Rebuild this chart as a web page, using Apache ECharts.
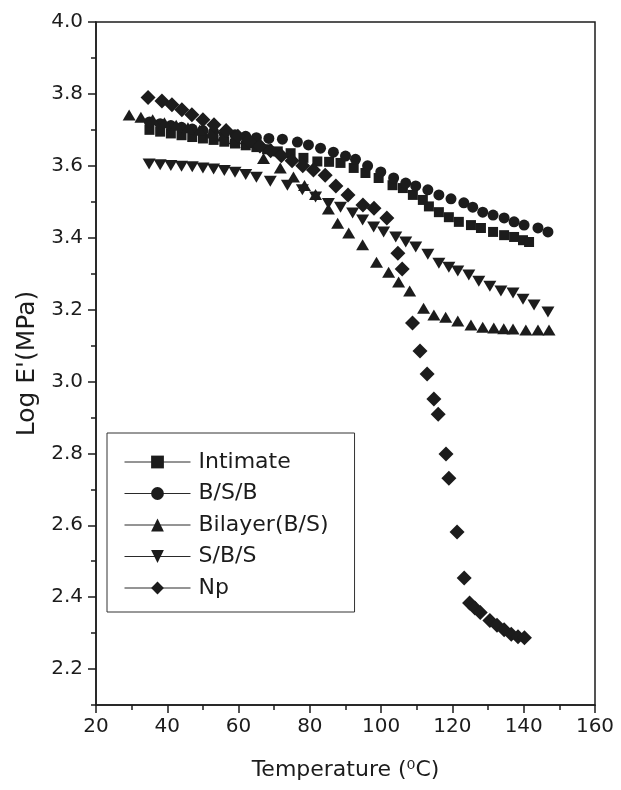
<!DOCTYPE html>
<html>
<head>
<meta charset="utf-8">
<script src="https://cdn.jsdelivr.net/npm/echarts@6/dist/echarts.min.js"></script>
<style>
	html, body { margin: 0; padding: 0; background: #fff; }
	#chart { width: 621px; height: 790px; }
</style>
</head>
<body>
<div id="chart"></div>
<script>
// values: temperature (C) and log E' (MPa)
var intimateT = [35,38,41,44,47,50,53,56,59,62,65,68,71,74.6,78.2,82.1,85.4,88.6,92.3,95.6,99.3,103.2,106.1,108.9,111.7,113.4,116.2,119,121.8,125.2,128,131.4,134.5,137.3,139.8,141.5];
var intimateV = [3.70,3.695,3.69,3.685,3.68,3.676,3.672,3.667,3.662,3.657,3.652,3.646,3.64,3.635,3.622,3.612,3.611,3.608,3.594,3.58,3.566,3.546,3.538,3.519,3.505,3.487,3.471,3.457,3.444,3.435,3.427,3.416,3.407,3.402,3.393,3.388];

var bsbT = [35,38,41,44,47,50,53,56,59,62,65,68.5,72.3,76.5,79.6,83,86.6,90,92.8,96.2,99.9,103.5,106.9,109.7,113.1,116.2,119.6,123.2,125.7,128.5,131.4,134.5,137.3,140.1,144,146.8];
var bsbV = [3.722,3.717,3.712,3.707,3.702,3.698,3.694,3.69,3.686,3.682,3.678,3.676,3.674,3.666,3.658,3.649,3.638,3.627,3.618,3.6,3.583,3.566,3.552,3.544,3.533,3.519,3.508,3.497,3.485,3.471,3.463,3.455,3.444,3.435,3.427,3.416];

var bilayerT = [29.3,32.6,35.9,39.2,42.5,45.8,49.1,52.4,55.7,59,62.3,67,71.7,75.4,78.5,81.6,85.2,87.8,90.9,94.8,98.7,102.1,104.9,108,111.9,114.8,118.1,121.5,125.2,128.5,131.6,134.4,137,140.6,144,147.1];
var bilayerV = [3.741,3.735,3.728,3.72,3.713,3.706,3.699,3.691,3.683,3.675,3.665,3.62,3.594,3.569,3.545,3.52,3.48,3.44,3.413,3.38,3.332,3.304,3.277,3.252,3.204,3.185,3.179,3.168,3.157,3.151,3.149,3.147,3.146,3.143,3.143,3.143];

var sbsT = [34.9,38,41,44,47,50,53,56,59,62,65,68.9,73.7,77.9,81.6,85.2,88.6,92,94.8,97.9,100.7,104.1,106.9,109.7,113.1,116.2,119,121.5,124.6,127.4,130.5,133.6,137,139.8,142.9,146.8];
var sbsV = [3.605,3.603,3.601,3.599,3.597,3.594,3.591,3.587,3.582,3.576,3.568,3.557,3.546,3.533,3.513,3.495,3.485,3.469,3.449,3.43,3.416,3.402,3.388,3.374,3.354,3.329,3.318,3.307,3.296,3.279,3.265,3.252,3.246,3.229,3.213,3.193];

var npT = [34.6,38.5,41.3,44.1,46.9,50,53.1,56.5,59.8,63,66,69,72,75,78,81,84.3,87.3,90.7,94.9,98,101.6,104.7,105.9,108.8,110.9,112.9,114.8,116,118.2,119,121.3,123.3,124.8,126.3,127.8,130.5,132.5,134.5,136.5,138.4,140.2];
var npV = [3.79,3.78,3.77,3.756,3.742,3.728,3.714,3.698,3.682,3.668,3.655,3.642,3.628,3.614,3.6,3.588,3.574,3.544,3.519,3.491,3.482,3.455,3.357,3.313,3.163,3.085,3.021,2.951,2.909,2.798,2.731,2.581,2.453,2.384,2.37,2.357,2.335,2.322,2.309,2.297,2.29,2.287];

var yMajor = [2.2,2.4,2.6,2.8,3.0,3.2,3.4,3.6,3.8,4.0];
var yMinor = [2.1,2.3,2.5,2.7,2.9,3.1,3.3,3.5,3.7,3.9];

var ink = '#1c1c1c';
var font = 'DejaVu Sans';
var downTri = 'path://M0,0 L12,0 L6,10 Z';

function pairs(xs, ys){
	var out = [];
	for (var i = 0; i < xs.length; i++) out.push([xs[i], ys[i]]);
	return out;
}

function makeSeries(name, symbol, size, xs, ys){
	return {
		name: name,
		type: 'line',
		symbol: symbol,
		symbolSize: size,
		showAllSymbol: true,
		animation: false,
		itemStyle: { color: ink },
		lineStyle: { width: 0, opacity: 0 },
		emphasis: { disabled: true },
		data: pairs(xs, ys)
	};
}

var chart = echarts.init(document.getElementById('chart'));
var option = {
	animation: false,
	grid: {
		left: 96,
		right: 26,
		top: 22,
		bottom: 85,
		show: true,
		borderColor: ink,
		borderWidth: 1.5
	},
	legend: {
		orient: 'vertical',
		left: 107,
		top: 433,
		padding: [18, 26, 13, 17],
		itemGap: 9.5,
		itemWidth: 66,
		itemHeight: 16,
		borderColor: '#333',
		borderWidth: 1,
		lineStyle: { width: 1, opacity: 1, color: '#2a2a2a' },
		textStyle: { fontFamily: font, fontSize: 22, lineHeight: 22, color: ink, padding: [0, 0, 0, 3] },
		data: ['Intimate', 'B/S/B', 'Bilayer(B/S)', 'S/B/S', 'Np']
	},
	xAxis: {
		type: 'value',
		min: 20,
		max: 160,
		interval: 20,
		name: 'Temperature (\u2070C)',
		nameLocation: 'middle',
		nameGap: 54,
		nameTextStyle: { fontFamily: font, fontSize: 22, color: ink },
		axisLine: { lineStyle: { color: ink, width: 1.5 } },
		axisTick: { length: 8, lineStyle: { color: ink, width: 1.5 } },
		minorTick: { show: true, splitNumber: 2, length: 5, lineStyle: { color: ink, width: 1.5 } },
		axisLabel: { margin: 12, fontFamily: font, fontSize: 20, color: ink },
		splitLine: { show: false }
	},
	yAxis: [
		{
			type: 'value',
			min: 2.1,
			max: 4.0,
			name: "Log E'(MPa)",
			nameLocation: 'middle',
			nameGap: 56,
			nameTextStyle: { fontFamily: font, fontSize: 25, color: ink },
			axisLine: { lineStyle: { color: ink, width: 1.5 } },
			axisTick: { customValues: yMajor, length: 8, lineStyle: { color: ink, width: 1.5 } },
			axisLabel: {
				customValues: yMajor,
				margin: 13,
				fontFamily: font,
				fontSize: 20,
				color: ink,
				formatter: function(v){ return v.toFixed(1); }
			},
			splitLine: { show: false }
		},
		{
			// minor ticks only
			type: 'value',
			position: 'left',
			min: 2.1,
			max: 4.0,
			axisLine: { show: false },
			axisTick: { customValues: yMinor, length: 5, lineStyle: { color: ink, width: 1.5 } },
			axisLabel: { show: false },
			splitLine: { show: false }
		}
	],
	series: [
		makeSeries('Intimate', 'rect', 10, intimateT, intimateV),
		makeSeries('B/S/B', 'circle', 11, bsbT, bsbV),
		makeSeries('Bilayer(B/S)', 'triangle', [13, 11], bilayerT, bilayerV),
		makeSeries('S/B/S', downTri, [13, 11], sbsT, sbsV),
		makeSeries('Np', 'diamond', 15, npT, npV)
	]
};
chart.setOption(option);
window.addEventListener('resize', function(){ chart.resize(); });
</script>
</body>
</html>
